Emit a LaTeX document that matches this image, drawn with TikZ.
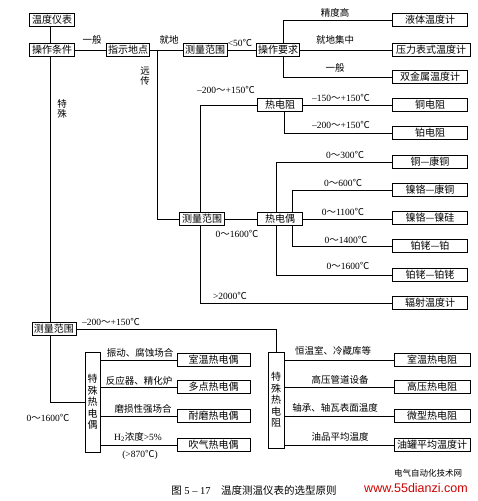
\documentclass[tikz,border=0pt]{standalone}
\usepackage{fontspec}
\setmainfont{Liberation Serif}
\newfontfamily\cjk{Noto Sans CJK SC}
\newfontfamily\wsans{Liberation Sans}
\newcommand\degC{{\cjk ℃}}
\newcommand\tld{{\cjk ～}}
\begin{document}
\begin{tikzpicture}[x=1pt,y=-1pt,
  box/.style={draw, line width=0.8pt, fill=white, inner sep=0pt, minimum height=13.5pt, font=\cjk\fontsize{10}{11}\selectfont},
  vbox/.style={draw, line width=0.8pt, fill=white, inner sep=0pt, align=center, font=\cjk\fontsize{10}{11.5}\selectfont},
  lbl/.style={inner sep=0pt, font=\fontsize{9.5}{10}\selectfont},
  clbl/.style={inner sep=0pt, font=\cjk\fontsize{9.5}{10}\selectfont},
  conn/.style={line width=0.8pt}]
\useasboundingbox (0,0) rectangle (478,501);
% ---- main boxes
\node[box, minimum width=45pt] (t0) at (52,20) {温度仪表};
\node[box, minimum width=45pt] (t1) at (52,50) {操作条件};
\node[box, minimum width=43pt] (t2) at (128,50) {指示地点};
\node[box, minimum width=44pt] (m1) at (205,50) {测量范围};
\node[box, minimum width=43pt] (req) at (278,50) {操作要求};
\node[box, minimum width=75pt] (r1) at (430,20) {液体温度计};
\node[box, minimum width=78pt] (r2) at (431,50) {压力表式温度计};
\node[box, minimum width=75pt] (r3) at (430,77) {双金属温度计};
\node[box, minimum width=45pt] (m2) at (202,219) {测量范围};
\node[box, minimum width=45pt] (rd) at (280,105) {热电阻};
\node[box, minimum width=45pt] (tc) at (280,219) {热电偶};
\node[box, minimum width=75pt] (cu) at (430,105) {铜电阻};
\node[box, minimum width=75pt] (pt) at (430,133) {铂电阻};
\node[box, minimum width=75pt] (tc1) at (430,162) {铜—康铜};
\node[box, minimum width=75pt] (tc2) at (430,190) {镍铬—康铜};
\node[box, minimum width=75pt] (tc3) at (430,218) {镍铬—镍硅};
\node[box, minimum width=75pt] (tc4) at (430,246) {铂铑—铂};
\node[box, minimum width=75pt] (tc5) at (430,275) {铂铑—铂铑};
\node[box, minimum width=75pt] (rad) at (430,303) {辐射温度计};
\node[box, minimum width=44pt] (m3) at (54,329) {测量范围};
\node[vbox, minimum width=15pt, minimum height=100pt] (stc) at (92.5,402) {特\\殊\\热\\电\\偶};
\node[vbox, minimum width=16pt, minimum height=96pt] (str) at (276,400) {特\\殊\\热\\电\\阻};
\node[box, minimum width=73pt] (s1) at (213.5,360) {室温热电偶};
\node[box, minimum width=73pt] (s2) at (213.5,387) {多点热电偶};
\node[box, minimum width=73pt] (s3) at (213.5,416) {耐磨热电偶};
\node[box, minimum width=73pt] (s4) at (213.5,445) {吹气热电偶};
\node[box, minimum width=76pt] (e1) at (432,360) {室温热电阻};
\node[box, minimum width=76pt] (e2) at (432,387) {高压热电阻};
\node[box, minimum width=76pt] (e3) at (432,416) {微型热电阻};
\node[box, minimum width=76pt] (e4) at (432,445) {油罐平均温度计};
% ---- junction coordinates
\coordinate (lx) at (50,0);
\coordinate (j1) at (157,50);
\coordinate (rq) at (283,50);
\coordinate (ma) at (200,219);
\coordinate (ra) at (284,105);
\coordinate (ta) at (276,219);
\coordinate (tb) at (292,219);
\coordinate (la) at (50,329);
% ---- connectors
\draw[conn] (lx |- t0.south) -- (lx |- t1.north);
\draw[conn] (lx |- t1.south) -- (lx |- m3.north);
\draw[conn] (t1.east) -- (t2.west);
\draw[conn] (t2.east) -- (m1.west);
\draw[conn] (j1) |- (m2.west);
\draw[conn] (m1.east) -- (req.west);
\draw[conn] (rq |- req.north) |- (r1.west);
\draw[conn] (req.east) -- (r2.west);
\draw[conn] (rq |- req.south) |- (r3.west);
\draw[conn] (ma |- m2.north) |- (rd.west);
\draw[conn] (m2.east) -- (tc.west);
\draw[conn] (ma |- m2.south) |- (rad.west);
\draw[conn] (rd.east) -- (cu.west);
\draw[conn] (ra |- rd.south) |- (pt.west);
\draw[conn] (ta |- tc.north) |- (tc1.west);
\draw[conn] (tb |- tc.north) |- (tc2.west);
\draw[conn] (tc.east) -- (tc3.west |- tc.east);
\draw[conn] (tb |- tc.south) |- (tc4.west);
\draw[conn] (ta |- tc.south) |- (tc5.west);
\draw[conn] (m3.east) -| (str.north);
\draw[conn] (la |- m3.south) |- (stc.west);
\foreach \s in {s1,s2,s3,s4} \draw[conn] (stc.east |- \s.west) -- (\s.west);
\foreach \s in {e1,e2,e3,e4} \draw[conn] (str.east |- \s.west) -- (\s.west);
% ---- labels
\node[clbl] (a1) at (92,40) {一般};
\node[clbl] (a2) at (169,40) {就地};
\node[clbl, align=center, font=\cjk\fontsize{9.5}{10.5}\selectfont] (a3) at (145,76) {远\\传};
\node[clbl, align=center, font=\cjk\fontsize{9.5}{10.5}\selectfont] (a4) at (62,109) {特\\殊};
\node[lbl] (a5) at (240,43) {<50\degC};
\node[clbl] (a6) at (335,13) {精度高};
\node[clbl] (a7) at (335,40) {就地集中};
\node[clbl] (a8) at (335,68) {一般};
\node[lbl] (a9) at (226,90) {–200\tld+150\degC};
\node[lbl] (a10) at (341,98) {–150\tld+150\degC};
\node[lbl] (a11) at (341,125) {–200\tld+150\degC};
\node[lbl] (a12) at (345,155) {0\tld300\degC};
\node[lbl] (a13) at (343,183) {0\tld600\degC};
\node[lbl] (a14) at (343,212) {0\tld1100\degC};
\node[lbl] (a15) at (346,240) {0\tld1400\degC};
\node[lbl] (a16) at (348,266) {0\tld1600\degC};
\node[lbl] (a17) at (237,234) {0\tld1600\degC};
\node[lbl] (a18) at (230,296) {>2000\degC};
\node[lbl] (a19) at (111,322) {–200\tld+150\degC};
\node[lbl] (a20) at (48,418) {0\tld1600\degC};
\node[clbl] (b1) at (140,353) {振动、腐蚀场合};
\node[clbl] (b2) at (139,381) {反应器、精化炉};
\node[clbl] (b3) at (143,409) {磨损性强场合};
\node[lbl] (b4) at (138,437) {H\textsubscript{2}{\cjk 浓度}>5\%};
\node[lbl] (b5) at (140,455) {(>870\degC)};
\node[clbl] (c1) at (333,351) {恒温室、冷藏库等};
\node[clbl] (c2) at (340,380) {高压管道设备};
\node[clbl] (c3) at (335,408) {轴承、轴瓦表面温度};
\node[clbl] (c4) at (340,437) {油品平均温度};
% ---- caption and site mark
\node[inner sep=0pt, font=\fontsize{10.5}{12}\selectfont] (cap) at (254,490) {{\cjk 图} 5 – 17\quad{\cjk 温度测温仪表的选型原则}};
\node[inner sep=0pt, font=\cjk\fontsize{8.5}{10}\selectfont] (w1) at (428,473) {电气自动化技术网};
\node[inner sep=0pt, text=red!80!black, font=\wsans\fontsize{12.5}{14}\selectfont] (w2) at (416,488) {www.55dianzi.com};
\end{tikzpicture}
\end{document}
